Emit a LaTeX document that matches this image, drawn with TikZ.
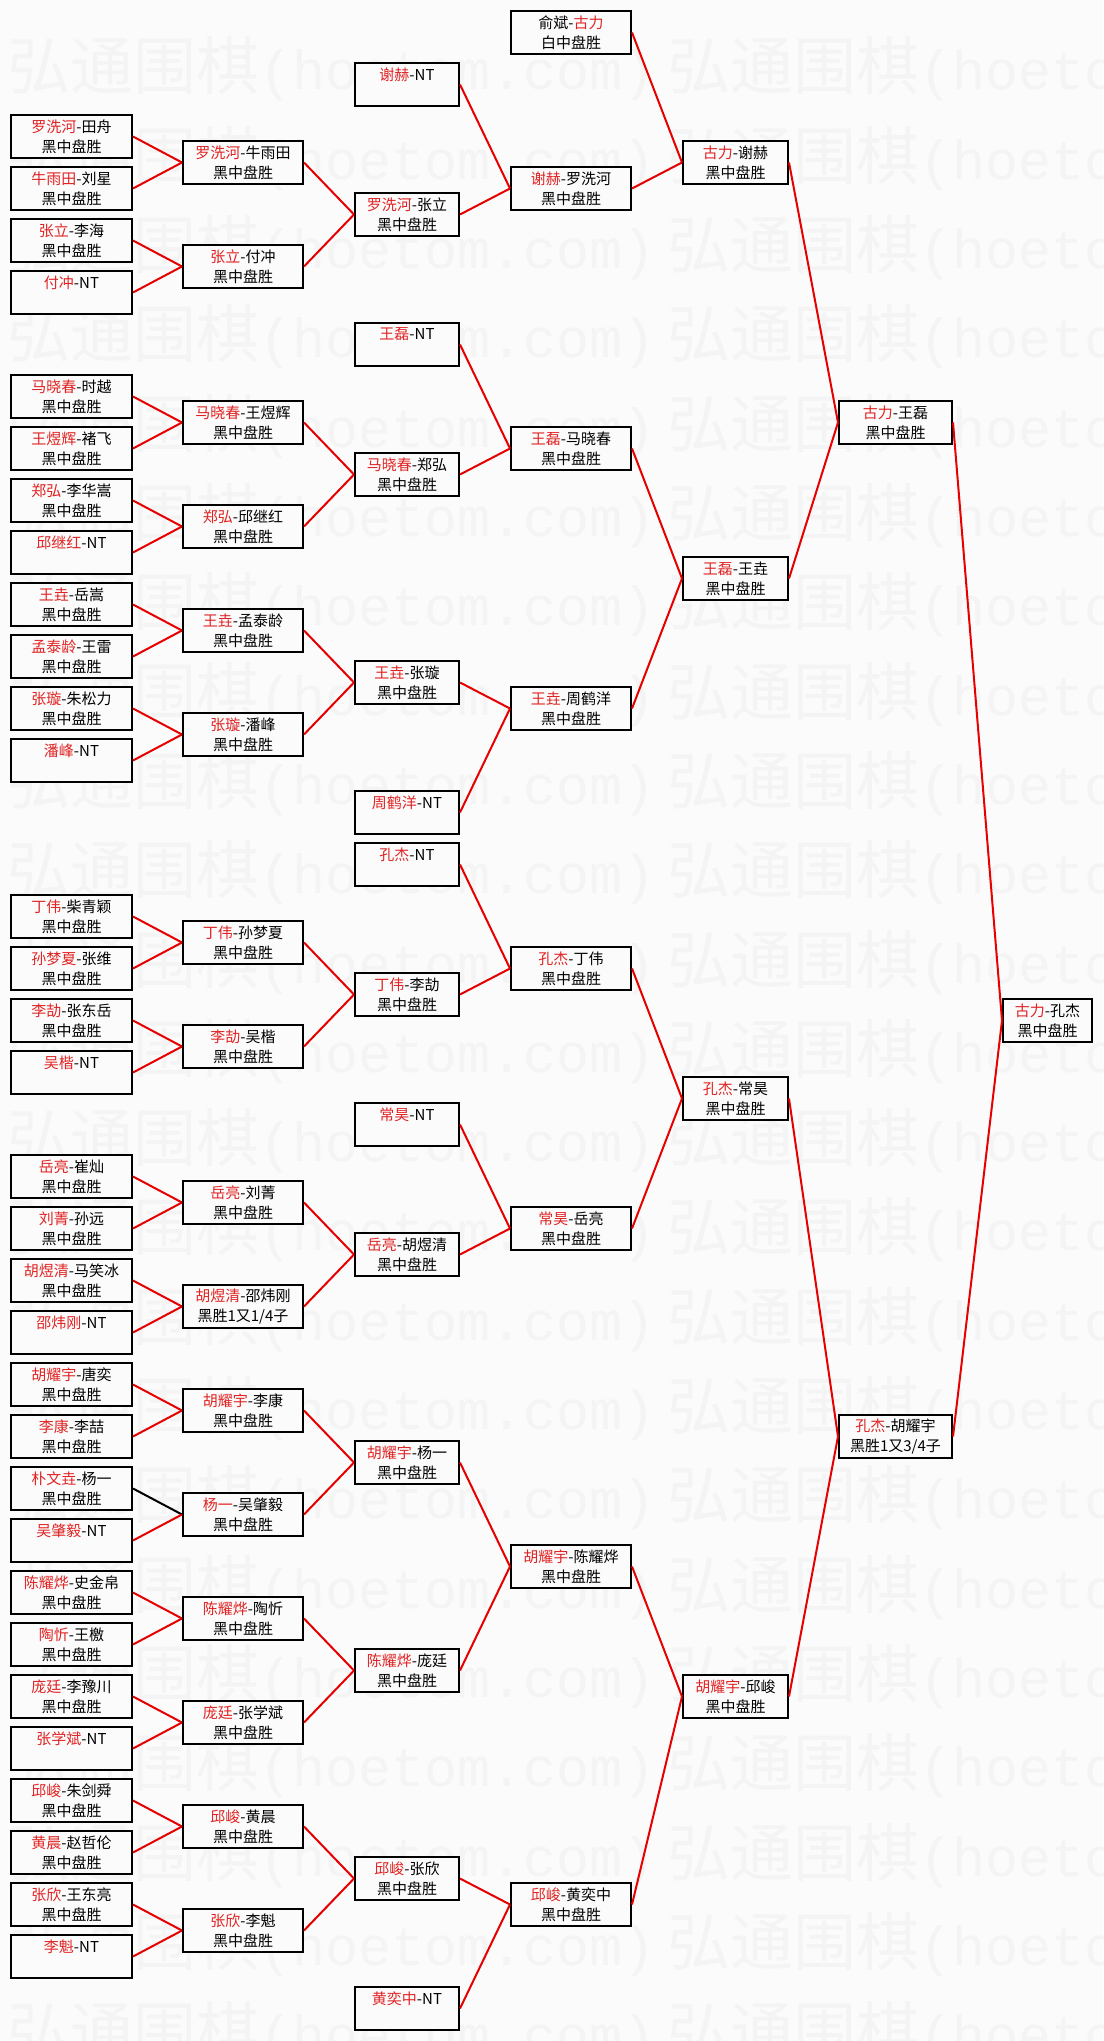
\documentclass[tikz,border=0pt]{standalone}
\usepackage{fontspec}
\setmainfont{Noto Sans CJK SC}
\newfontfamily\wmmono{Liberation Mono}
\definecolor{winred}{RGB}{225,35,35}
\definecolor{linered}{RGB}{230,0,0}
\definecolor{bgc}{RGB}{251,251,251}
\definecolor{wmc}{RGB}{244,244,244}
\newcommand\W[1]{\textcolor{winred}{#1}}
\def\xcA{71.5}\def\xcB{243}\def\xcC{407}\def\xcD{571}\def\xcE{735.5}\def\xcF{895.5}\def\xcG{1047.5}
\newcommand\Bx[5]{\node[col#2] (#1) at ({\csname xc#2\endcsname},{32.5+52*#3}) {#4\\#5};}
\newcommand\NT{\phantom{黑中盘胜}}
\tikzset{
  box/.style={draw=black, line width=2pt, fill=bgc, minimum height=43pt, inner sep=0pt,
    align=center, font=\fontsize{15}{20}\selectfont},
  colA/.style={box, minimum width=121pt},
  colB/.style={box, minimum width=120pt},
  colC/.style={box, minimum width=104pt},
  colD/.style={box, minimum width=120pt},
  colE/.style={box, minimum width=105pt},
  colF/.style={box, minimum width=113pt},
  colG/.style={box, minimum width=89pt},
  conn/.style={draw=linered, line width=2pt},
  connk/.style={draw=black, line width=2pt},
  wm/.style={text=wmc, inner sep=0pt, font=\fontsize{63}{63}\selectfont}
}
\begin{document}
\begin{tikzpicture}[x=1pt,y=-1pt]
\useasboundingbox (0,0) rectangle (1103,2041);
\fill[bgc] (0,0) rectangle (1103,2041);
% watermark
\foreach \n in {0,...,22}{
  \foreach \x in {7,667}{
    \node[wm, anchor=base west] (wm-\n-\x) at (\x,{90+89.3*\n}) {弘通围棋{\wmmono\fontsize{55}{55}\selectfont(hoetom.com)}};
  }
}
% column 1
\Bx{a1}{A}{2}{\W{罗洗河}-田舟}{黑中盘胜}
\Bx{a2}{A}{3}{\W{牛雨田}-刘星}{黑中盘胜}
\Bx{a3}{A}{4}{\W{张立}-李海}{黑中盘胜}
\Bx{a4}{A}{5}{\W{付冲}-NT}{\NT}
\Bx{a5}{A}{7}{\W{马晓春}-时越}{黑中盘胜}
\Bx{a6}{A}{8}{\W{王煜辉}-褚飞}{黑中盘胜}
\Bx{a7}{A}{9}{\W{郑弘}-李华嵩}{黑中盘胜}
\Bx{a8}{A}{10}{\W{邱继红}-NT}{\NT}
\Bx{a9}{A}{11}{\W{王垚}-岳嵩}{黑中盘胜}
\Bx{a10}{A}{12}{\W{孟泰龄}-王雷}{黑中盘胜}
\Bx{a11}{A}{13}{\W{张璇}-朱松力}{黑中盘胜}
\Bx{a12}{A}{14}{\W{潘峰}-NT}{\NT}
\Bx{a13}{A}{17}{\W{丁伟}-柴青颖}{黑中盘胜}
\Bx{a14}{A}{18}{\W{孙梦夏}-张维}{黑中盘胜}
\Bx{a15}{A}{19}{\W{李劼}-张东岳}{黑中盘胜}
\Bx{a16}{A}{20}{\W{吴楷}-NT}{\NT}
\Bx{a17}{A}{22}{\W{岳亮}-崔灿}{黑中盘胜}
\Bx{a18}{A}{23}{\W{刘菁}-孙远}{黑中盘胜}
\Bx{a19}{A}{24}{\W{胡煜清}-马笑冰}{黑中盘胜}
\Bx{a20}{A}{25}{\W{邵炜刚}-NT}{\NT}
\Bx{a21}{A}{26}{\W{胡耀宇}-唐奕}{黑中盘胜}
\Bx{a22}{A}{27}{\W{李康}-李喆}{黑中盘胜}
\Bx{a23}{A}{28}{\W{朴文垚}-杨一}{黑中盘胜}
\Bx{a24}{A}{29}{\W{吴肇毅}-NT}{\NT}
\Bx{a25}{A}{30}{\W{陈耀烨}-史金帛}{黑中盘胜}
\Bx{a26}{A}{31}{\W{陶忻}-王檄}{黑中盘胜}
\Bx{a27}{A}{32}{\W{庞廷}-李豫川}{黑中盘胜}
\Bx{a28}{A}{33}{\W{张学斌}-NT}{\NT}
\Bx{a29}{A}{34}{\W{邱峻}-朱剑舜}{黑中盘胜}
\Bx{a30}{A}{35}{\W{黄晨}-赵哲伦}{黑中盘胜}
\Bx{a31}{A}{36}{\W{张欣}-王东亮}{黑中盘胜}
\Bx{a32}{A}{37}{\W{李魁}-NT}{\NT}
% column 2
\Bx{b1}{B}{2.5}{\W{罗洗河}-牛雨田}{黑中盘胜}
\Bx{b2}{B}{4.5}{\W{张立}-付冲}{黑中盘胜}
\Bx{b3}{B}{7.5}{\W{马晓春}-王煜辉}{黑中盘胜}
\Bx{b4}{B}{9.5}{\W{郑弘}-邱继红}{黑中盘胜}
\Bx{b5}{B}{11.5}{\W{王垚}-孟泰龄}{黑中盘胜}
\Bx{b6}{B}{13.5}{\W{张璇}-潘峰}{黑中盘胜}
\Bx{b7}{B}{17.5}{\W{丁伟}-孙梦夏}{黑中盘胜}
\Bx{b8}{B}{19.5}{\W{李劼}-吴楷}{黑中盘胜}
\Bx{b9}{B}{22.5}{\W{岳亮}-刘菁}{黑中盘胜}
\Bx{b10}{B}{24.5}{\W{胡煜清}-邵炜刚}{黑胜1又1/4子}
\Bx{b11}{B}{26.5}{\W{胡耀宇}-李康}{黑中盘胜}
\Bx{b12}{B}{28.5}{\W{杨一}-吴肇毅}{黑中盘胜}
\Bx{b13}{B}{30.5}{\W{陈耀烨}-陶忻}{黑中盘胜}
\Bx{b14}{B}{32.5}{\W{庞廷}-张学斌}{黑中盘胜}
\Bx{b15}{B}{34.5}{\W{邱峻}-黄晨}{黑中盘胜}
\Bx{b16}{B}{36.5}{\W{张欣}-李魁}{黑中盘胜}
% column 3
\Bx{c1}{C}{1}{\W{谢赫}-NT}{\NT}
\Bx{c2}{C}{3.5}{\W{罗洗河}-张立}{黑中盘胜}
\Bx{c3}{C}{6}{\W{王磊}-NT}{\NT}
\Bx{c4}{C}{8.5}{\W{马晓春}-郑弘}{黑中盘胜}
\Bx{c5}{C}{12.5}{\W{王垚}-张璇}{黑中盘胜}
\Bx{c6}{C}{15}{\W{周鹤洋}-NT}{\NT}
\Bx{c7}{C}{16}{\W{孔杰}-NT}{\NT}
\Bx{c8}{C}{18.5}{\W{丁伟}-李劼}{黑中盘胜}
\Bx{c9}{C}{21}{\W{常昊}-NT}{\NT}
\Bx{c10}{C}{23.5}{\W{岳亮}-胡煜清}{黑中盘胜}
\Bx{c11}{C}{27.5}{\W{胡耀宇}-杨一}{黑中盘胜}
\Bx{c12}{C}{31.5}{\W{陈耀烨}-庞廷}{黑中盘胜}
\Bx{c13}{C}{35.5}{\W{邱峻}-张欣}{黑中盘胜}
\Bx{c14}{C}{38}{\W{黄奕中}-NT}{\NT}
% column 4
\Bx{d0}{D}{0}{俞斌-\W{古力}}{白中盘胜}
\Bx{d1}{D}{3}{\W{谢赫}-罗洗河}{黑中盘胜}
\Bx{d2}{D}{8}{\W{王磊}-马晓春}{黑中盘胜}
\Bx{d3}{D}{13}{\W{王垚}-周鹤洋}{黑中盘胜}
\Bx{d4}{D}{18}{\W{孔杰}-丁伟}{黑中盘胜}
\Bx{d5}{D}{23}{\W{常昊}-岳亮}{黑中盘胜}
\Bx{d6}{D}{29.5}{\W{胡耀宇}-陈耀烨}{黑中盘胜}
\Bx{d7}{D}{36}{\W{邱峻}-黄奕中}{黑中盘胜}
% column 5
\Bx{e1}{E}{2.5}{\W{古力}-谢赫}{黑中盘胜}
\Bx{e2}{E}{10.5}{\W{王磊}-王垚}{黑中盘胜}
\Bx{e3}{E}{20.5}{\W{孔杰}-常昊}{黑中盘胜}
\Bx{e4}{E}{32}{\W{胡耀宇}-邱峻}{黑中盘胜}
% column 6
\Bx{f1}{F}{7.5}{\W{古力}-王磊}{黑中盘胜}
\Bx{f2}{F}{27}{\W{孔杰}-胡耀宇}{黑胜1又3/4子}
% column 7
\Bx{g1}{G}{19}{\W{古力}-孔杰}{黑中盘胜}
% connectors col1 -> col2
\foreach \i in {1,...,16}{
  \pgfmathtruncatemacro\p{2*\i-1}
  \pgfmathtruncatemacro\q{2*\i}
  \ifnum\i=12
    \draw[connk] (a\p.east) -- (b\i.west);
  \else
    \draw[conn] (a\p.east) -- (b\i.west);
  \fi
  \draw[conn] (a\q.east) -- (b\i.west);
}
% col2 -> col3
\foreach \s/\t in {b1/c2,b2/c2,b3/c4,b4/c4,b5/c5,b6/c5,b7/c8,b8/c8,b9/c10,b10/c10,b11/c11,b12/c11,b13/c12,b14/c12,b15/c13,b16/c13}
  \draw[conn] (\s.east) -- (\t.west);
% col3 -> col4
\foreach \s/\t in {c1/d1,c2/d1,c3/d2,c4/d2,c5/d3,c6/d3,c7/d4,c8/d4,c9/d5,c10/d5,c11/d6,c12/d6,c13/d7,c14/d7}
  \draw[conn] (\s.east) -- (\t.west);
% col4 -> col5
\foreach \s/\t in {d0/e1,d1/e1,d2/e2,d3/e2,d4/e3,d5/e3,d6/e4,d7/e4}
  \draw[conn] (\s.east) -- (\t.west);
% col5 -> col6 -> col7
\foreach \s/\t in {e1/f1,e2/f1,e3/f2,e4/f2,f1/g1,f2/g1}
  \draw[conn] (\s.east) -- (\t.west);
\end{tikzpicture}
\end{document}
